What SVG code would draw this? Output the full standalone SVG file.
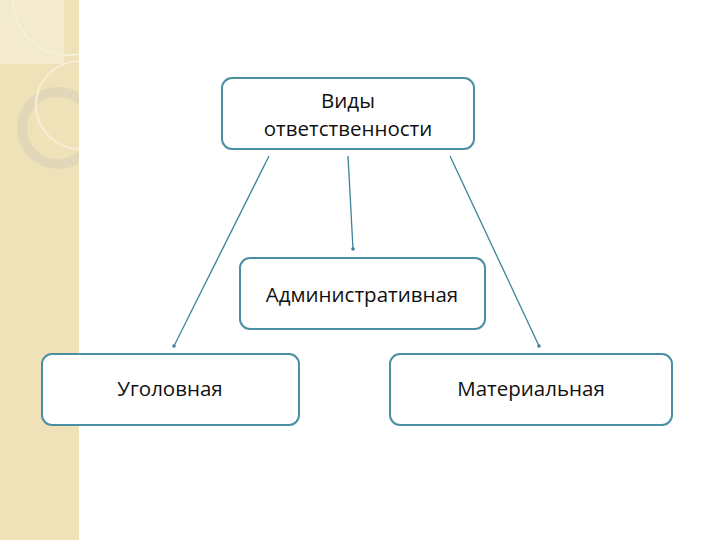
<svg xmlns="http://www.w3.org/2000/svg" width="720" height="540" viewBox="0 0 720 540">
<defs>
<marker id="dot" markerWidth="4" markerHeight="4" refX="2" refY="2" markerUnits="userSpaceOnUse"><circle cx="2" cy="2" r="1.8" fill="#3f8296"/></marker>
<clipPath id="cp"><rect x="0" y="0" width="79" height="540"/></clipPath>
<style>
.box{fill:#fff;stroke:#4a8fa3;stroke-width:2}
.t{font-family:"Open Sans","DejaVu Sans",sans-serif;font-size:20.5px;fill:#111;text-anchor:middle}
.c{stroke:#3f8296;stroke-width:1.3;fill:none;marker-end:url(#dot)}
</style>
</defs>
<rect width="720" height="540" fill="#fff"/>
<g id="bg" clip-path="url(#cp)">
<rect x="0" y="0" width="79" height="540" fill="#efe2b8"/>
<rect x="0" y="0" width="64" height="64" fill="#f4ebcf"/>
<circle cx="68" cy="0" r="55" fill="none" stroke="#f8f0d8" stroke-width="2"/>
<circle cx="58" cy="128" r="36" fill="none" stroke="#e2d7b8" stroke-width="10"/>
<circle cx="80" cy="105" r="44" fill="none" stroke="#f6eed5" stroke-width="2"/>
</g>
<g id="connectors">
<line class="c" x1="269" y1="156" x2="174" y2="346"/>
<line class="c" x1="348" y1="156" x2="353" y2="249"/>
<line class="c" x1="450" y1="156" x2="539" y2="346"/>
</g>
<g id="n1"><rect class="box" x="222" y="78" width="252" height="71" rx="10"/>
<text class="t" x="348" y="108">Виды</text><text class="t" x="348" y="136">ответственности</text></g>
<g id="n2"><rect class="box" x="240" y="258" width="245" height="71" rx="10"/>
<text class="t" x="362" y="302">Административная</text></g>
<g id="n3"><rect class="box" x="42" y="354" width="257" height="71" rx="10"/>
<text class="t" x="170" y="396">Уголовная</text></g>
<g id="n4"><rect class="box" x="390" y="354" width="282" height="71" rx="10"/>
<text class="t" x="531" y="396">Материальная</text></g>
</svg>
